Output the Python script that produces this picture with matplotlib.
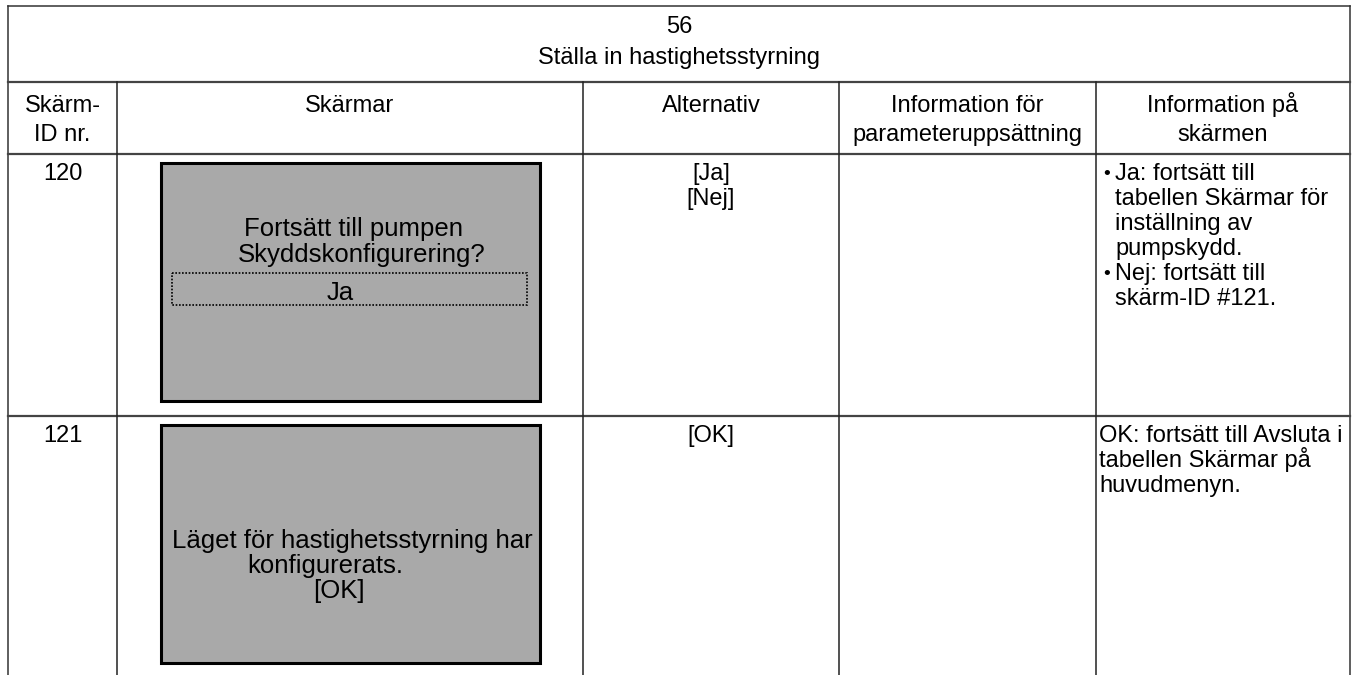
import matplotlib.pyplot as plt
from matplotlib.patches import Rectangle

plt.rcParams['font.family'] = ['Liberation Sans', 'DejaVu Sans']

# table content
table_number = "56"
table_title = "Ställa in hastighetsstyrning"
headers = [["Skärm-", "ID nr."], ["Skärmar"], ["Alternativ"],
           ["Information för", "parameteruppsättning"], ["Information på", "skärmen"]]
screen_ids = ["120", "121"]
options = [["[Ja]", "[Nej]"], ["[OK]"]]
screen_text_1 = ["Fortsätt till pumpen", "Skyddskonfigurering?"]
screen_choice_1 = "Ja"
screen_text_2 = ["Läget för hastighetsstyrning har", "konfigurerats.", "[OK]"]
info_row1 = [["Ja: fortsätt till", "tabellen Skärmar för", "inställning av", "pumpskydd."],
             ["Nej: fortsätt till", "skärm-ID #121."]]
info_row2 = ["OK: fortsätt till Avsluta i", "tabellen Skärmar på", "huvudmenyn."]

# layout (pixels)
W, H = 1354, 675
col_x = [8, 117, 583, 839, 1096, 1350]
y_top, y_title, y_head, y_row2 = 6, 82, 154, 416
fs = 17
fs_box = 18.5
line_h = 25

fig = plt.figure(figsize=(W / 100, H / 100), dpi=100)
ax = fig.add_axes([0, 0, 1, 1])
ax.set_xlim(0, W)
ax.set_ylim(H, 0)
ax.axis('off')

lw = 1.1
# outer frame and rules
ax.plot([col_x[0], col_x[-1]], [y_top, y_top], color='#333333', lw=lw)
ax.plot([col_x[0], col_x[0]], [y_top, H], color='#333333', lw=lw)
ax.plot([col_x[-1], col_x[-1]], [y_top, H], color='#333333', lw=lw)
for y in [y_title, y_head, y_row2]:
    ax.plot([col_x[0], col_x[-1]], [y, y], color='#444444', lw=1.6)
for x in col_x[1:-1]:
    ax.plot([x, x], [y_title, H], color='#222222', lw=lw)

# title
cx = (col_x[0] + col_x[-1]) / 2
ax.text(cx, 33, table_number, ha='center', va='baseline', fontsize=fs)
ax.text(cx, 64, table_title, ha='center', va='baseline', fontsize=fs)

# headers
for i, lines in enumerate(headers):
    xm = (col_x[i] + col_x[i + 1]) / 2
    for k, t in enumerate(lines):
        ax.text(xm, 112 + k * 29, t, ha='center', va='baseline', fontsize=fs)

# rows: ids and options
row_base = [180, 442]
for r, yb in enumerate(row_base):
    xm = (col_x[0] + col_x[1]) / 2
    ax.text(xm, yb, screen_ids[r], ha='center', va='baseline', fontsize=fs)
    xa = (col_x[2] + col_x[3]) / 2
    for k, opt in enumerate(options[r]):
        ax.text(xa, yb + k * line_h, opt, ha='center', va='baseline', fontsize=fs)

# screen boxes
box_x0, box_x1 = 161, 540
boxes = [(163, 401), (425, 663)]
for y0, y1 in boxes:
    ax.add_patch(Rectangle((box_x0, y0), box_x1 - box_x0, y1 - y0,
                           facecolor='#a9a9a9', edgecolor='black', lw=2.2))

ax.text(244, 236, screen_text_1[0], ha='left', va='baseline', fontsize=fs_box)
ax.text(238, 262, screen_text_1[1], ha='left', va='baseline', fontsize=fs_box)
ax.add_patch(Rectangle((172, 273), 527 - 172, 32, facecolor='none',
                       edgecolor='black', lw=1.2, linestyle=(0, (1, 1))))
ax.text(340, 300, screen_choice_1, ha='center', va='baseline', fontsize=fs_box)

box2_x = [172, 247, 313]
for k, t in enumerate(screen_text_2):
    ax.text(box2_x[k], 548 + k * line_h, t, ha='left', va='baseline', fontsize=fs_box)

# information column
y = row_base[0]
for para in info_row1:
    for j, line in enumerate(para):
        if j == 0:
            ax.text(1103, y - 1, "•", ha='left', va='baseline', fontsize=fs - 3)
        ax.text(1115, y, line, ha='left', va='baseline', fontsize=fs)
        y += line_h
y = row_base[1]
for line in info_row2:
    ax.text(1099, y, line, ha='left', va='baseline', fontsize=fs)
    y += line_h

fig.savefig('out.png', dpi=100)
